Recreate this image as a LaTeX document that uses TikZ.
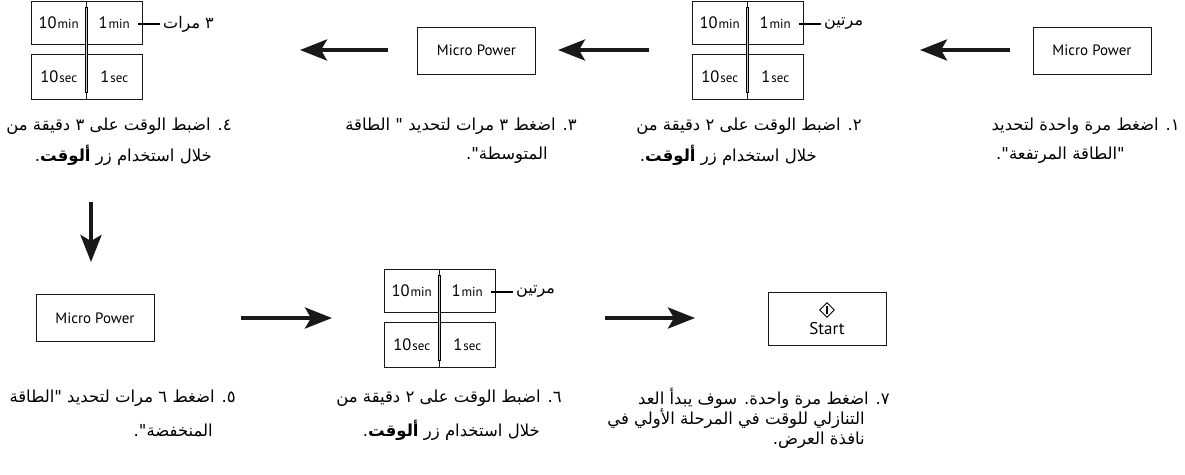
\documentclass[tikz,border=0pt]{standalone}
\usepackage{fontspec}
\setmainfont{PT Sans}
\newfontfamily\arabicfont[Script=Arabic]{DejaVu Sans}
\TeXXeTstate=1
\usetikzlibrary{arrows.meta,shapes.geometric}

\newcommand\tnum[2]{{\fontsize{16.5}{18}\selectfont #1}\kern1pt{\fontsize{13}{15}\selectfont #2}}

\newcommand\timergroup[4]{%
  \begin{scope}[shift={(#2,#3)}]
    \node[halfbox, minimum height=43pt] (#1tl) at (27.75,21.5) {\tnum{10}{min}};
    \node[halfbox, minimum height=43pt] (#1tr) at (83.25,21.5) {\tnum{1}{min}};
    \node[halfbox, minimum height=45pt] (#1bl) at (27.75,75.5) {\tnum{10}{sec}};
    \node[halfbox, minimum height=45pt] (#1br) at (83.25,75.5) {\tnum{1}{sec}};
    \draw[line width=0.6pt, fill=gray!40] (54.3,6) rectangle (56.7,91);
    \node[lbltxt] (#1lbl) at (132,23) {#4};
    \draw[line width=1.3pt] ([xshift=-3pt]#1lbl.west) -- ([xshift=-25pt]#1lbl.west);
  \end{scope}}

\tikzset{
  btn/.style={draw=black!90, line width=0.9pt, minimum width=118pt, minimum height=47pt,
    inner sep=0pt, font=\fontsize{15}{17}\selectfont},
  halfbox/.style={draw=black!90, line width=0.9pt, minimum width=55.5pt, inner sep=0pt},
  bigarrow/.style={line width=4pt, draw=black!90, -{Stealth[length=27pt,width=21pt,inset=6pt]}},
  captxt/.style={font=\arabicfont\fontsize{16.5}{18}\selectfont, inner sep=0pt, anchor=east},
  lbltxt/.style={font=\arabicfont\fontsize{16}{18}\selectfont, inner sep=0pt, anchor=west},
}

\begin{document}
\begin{tikzpicture}[x=1pt,y=-1pt]
\useasboundingbox[fill=white] (0,0) rectangle (1185,474);

% ---- top row ----
\node[btn] (mp1) at (1092,50.5) {Micro Power};
\timergroup{tb}{692}{1}{\beginR مرتين\endR}
\node[btn] (mp2) at (476.5,50.5) {Micro Power};
\timergroup{ta}{31}{1}{\beginR ٣ مرات\endR}

% ---- bottom row ----
\node[btn] (mp3) at (95,318) {Micro Power};
\timergroup{tc}{384}{269}{\beginR مرتين\endR}
\node[btn, minimum height=53pt] (start) at (827,318.5) {};
\node[diamond, draw=black, line width=0.9pt, minimum width=15pt, minimum height=15pt,
  inner sep=0pt] (startsym) at (827,310) {};
\draw[line width=1.8pt] ([yshift=-3.5pt]startsym.north) -- ([yshift=3.5pt]startsym.south);
\node[font=\fontsize{17}{19}\selectfont, inner sep=0pt] (starttxt) at (827,329) {Start};

% ---- arrows ----
\coordinate (a1s) at (1010,50); \coordinate (a1e) at (920,50);
\coordinate (a2s) at (649,50);  \coordinate (a2e) at (558,50);
\coordinate (a3s) at (388,50);  \coordinate (a3e) at (300,50);
\coordinate (a4s) at (91,202);  \coordinate (a4e) at (91,262);
\coordinate (a5s) at (241,318); \coordinate (a5e) at (332,318);
\coordinate (a6s) at (605,318); \coordinate (a6e) at (695,318);
\draw[bigarrow] (a1s) -- (a1e);
\draw[bigarrow] (a2s) -- (a2e);
\draw[bigarrow] (a3s) -- (a3e);
\draw[bigarrow] (a4s) -- (a4e);
\draw[bigarrow] (a5s) -- (a5e);
\draw[bigarrow] (a6s) -- (a6e);

% ---- captions ----
\node[captxt] (c1a) at (1180,126) {\beginR ١. اضغط مرة واحدة لتحديد\endR};
\node[captxt] (c1b) at (1125,155) {\beginR "الطاقة المرتفعة".\endR};
\node[captxt] (c2a) at (862,126) {\beginR ٢. اضبط الوقت على ٢ دقيقة من\endR};
\node[captxt] (c2b) at (817,155) {\beginR خلال استخدام زر \textbf{ألوقت}.\endR};
\node[captxt] (c3a) at (577,126) {\beginR ٣. اضغط ٣ مرات لتحديد " الطاقة\endR};
\node[captxt] (c3b) at (548,155) {\beginR المتوسطة".\endR};
\node[captxt] (c4a) at (232,126) {\beginR ٤. اضبط الوقت على ٣ دقيقة من\endR};
\node[captxt] (c4b) at (212,155) {\beginR خلال استخدام زر \textbf{ألوقت}.\endR};
\node[captxt] (c5a) at (236,398) {\beginR ٥. اضغط ٦ مرات لتحديد "الطاقة\endR};
\node[captxt] (c5b) at (213,430) {\beginR المنخفضة".\endR};
\node[captxt] (c6a) at (562,398) {\beginR ٦. اضبط الوقت على ٢ دقيقة من\endR};
\node[captxt] (c6b) at (540,430) {\beginR خلال استخدام زر \textbf{ألوقت}.\endR};
\node[captxt] (c7a) at (890,398) {\beginR ٧. اضغط مرة واحدة. سوف يبدأ العد\endR};
\node[captxt] (c7b) at (865,419) {\beginR التنازلي للوقت في المرحلة الأولي في\endR};
\node[captxt] (c7c) at (865,440) {\beginR نافذة العرض.\endR};
\end{tikzpicture}
\end{document}
